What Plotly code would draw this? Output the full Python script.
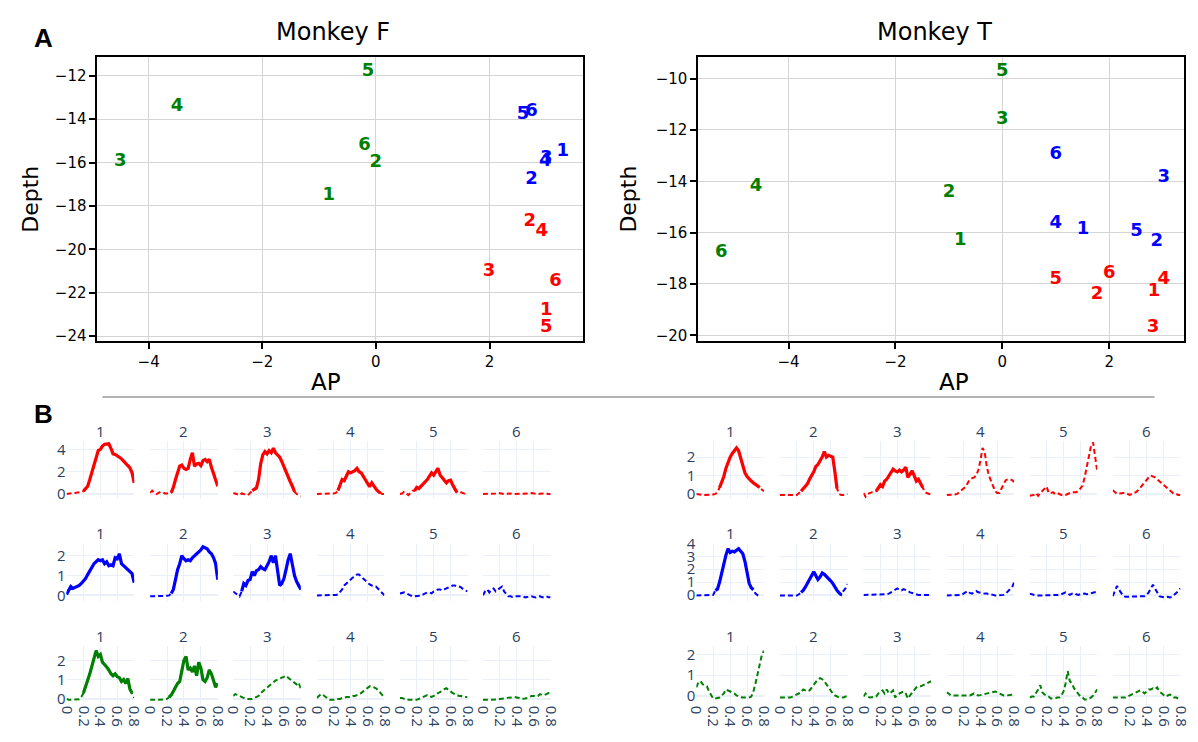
import plotly.graph_objects as go

W, H = 1198, 742

# ---------------- Panel A data (AP, Depth) for labels 1..6 ----------------
LABELS = ["1", "2", "3", "4", "5", "6"]
F_green_ap = [-0.83, 0.0, -4.5, -3.5, -0.14, -0.2]
F_green_depth = [-17.5, -16.0, -15.95, -13.4, -11.8, -15.2]
F_blue_ap = [3.29, 2.74, 3.0, 2.98, 2.59, 2.74]
F_blue_depth = [-15.5, -16.77, -15.82, -15.97, -13.8, -13.66]
F_red_ap = [3.0, 2.71, 1.99, 2.92, 3.0, 3.16]
F_red_depth = [-22.8, -18.7, -21.0, -19.2, -23.6, -21.5]

T_green_ap = [-0.79, -1.0, 0.0, -4.61, 0.0, -5.26]
T_green_depth = [-16.3, -14.43, -11.59, -14.2, -9.72, -16.78]
T_blue_ap = [1.51, 2.89, 3.02, 1.0, 2.51, 1.0]
T_blue_depth = [-15.87, -16.34, -13.85, -15.66, -15.95, -12.97]
T_red_ap = [2.84, 1.77, 2.82, 3.02, 1.0, 2.0]
T_red_depth = [-18.3, -18.41, -19.68, -17.82, -17.82, -17.61]

# ---------------- Panel B data ----------------
TIME = [i * 0.025 for i in range(33)]
N = None

FR1 = [0.0,0.02,0.05,0.07,0.08,0.1,0.12,0.18,0.26,0.45,0.7,1.3,1.9,2.6,3.3,3.9,4.0,4.3,4.45,4.45,4.5,4.1,3.6,3.55,3.45,3.3,3.15,2.95,2.8,2.65,2.35,1.9,1.0]
FR2 = [0.1,0.3,0.1,0.0,0.1,0.2,0.15,0.05,0.05,0.08,0.12,0.6,1.3,2.0,2.5,2.6,2.3,2.2,2.3,3.1,3.7,2.5,2.7,2.75,2.55,3.0,3.1,2.9,3.1,2.4,1.9,1.4,0.7]
FR3 = [0.1,0.05,-0.05,-0.1,0.05,0.0,-0.1,-0.1,0.1,0.3,0.45,0.55,1.3,2.7,3.5,3.8,3.6,3.9,3.7,4.1,3.7,3.5,3.3,2.9,2.4,1.9,1.5,1.1,0.7,0.2,0.0,-0.1,-0.2]
FR4 = [0.0,0.0,0.02,0.0,0.0,0.02,0.03,0.05,0.05,0.1,0.3,0.8,1.3,1.2,1.7,2.0,1.9,2.0,2.1,2.3,2.0,1.9,1.6,1.2,0.9,0.65,1.0,0.7,0.45,0.25,0.1,0.0,0.0]
FR5 = [0.0,0.05,0.2,0.1,-0.1,0.1,0.3,0.3,0.6,0.5,0.7,0.8,1.1,1.3,1.6,1.9,1.7,2.0,2.3,1.7,1.5,1.3,1.0,1.2,1.25,0.8,0.4,0.15,0.1,0.15,0.05,0.0,0.0]
FR6 = [0.0,0.0,0.0,0.02,0.0,0.0,0.05,0.1,0.05,0.0,0.0,0.02,0.05,0.05,0.0,0.0,0.02,0.03,0.05,0.02,0.0,0.0,0.05,0.08,0.05,0.0,0.0,0.02,0.05,0.08,0.05,0.0,0.0]

FB1 = [0.05,0.3,0.45,0.35,0.4,0.45,0.5,0.6,0.7,0.85,1.05,1.25,1.4,1.6,1.7,1.8,1.75,1.8,1.6,1.7,1.5,1.55,1.5,1.9,1.85,2.1,1.6,1.5,1.45,1.35,1.25,1.1,0.65]
FB2 = [-0.05,-0.05,-0.05,-0.05,-0.05,-0.05,-0.05,-0.05,-0.02,0.0,0.1,0.3,0.8,1.3,1.6,2.0,1.85,1.75,1.8,1.75,1.9,2.0,2.05,2.15,2.3,2.45,2.4,2.35,2.2,2.1,1.9,1.6,0.8]
FB3 = [0.2,0.1,0.0,-0.05,0.2,0.6,0.5,0.75,0.8,1.2,1.0,1.25,1.3,1.45,1.35,1.3,1.5,1.7,2.0,1.65,2.0,1.2,0.5,0.6,0.85,1.3,1.8,2.1,1.6,1.0,0.7,0.45,0.3]
FB4 = [0.0,0.0,0.0,0.0,0.0,0.0,0.0,0.0,0.0,0.02,0.05,0.15,0.3,0.5,0.6,0.75,0.85,0.9,0.95,1.05,1.05,0.95,0.8,0.7,0.6,0.55,0.5,0.45,0.45,0.35,0.2,0.1,0.0]
FB5 = [0.1,0.12,0.15,0.1,0.05,0.0,-0.05,-0.05,-0.05,-0.02,0.05,0.05,0.1,0.15,0.15,0.1,0.2,0.25,0.3,0.3,0.25,0.3,0.35,0.4,0.45,0.5,0.5,0.45,0.45,0.4,0.3,0.25,0.2]
FB6 = [0.0,0.2,0.3,0.15,0.3,0.35,0.2,0.3,0.4,0.45,0.2,0.05,-0.05,-0.05,-0.08,-0.05,-0.05,-0.08,-0.05,-0.05,-0.1,-0.08,-0.05,-0.05,-0.08,-0.1,-0.05,-0.05,-0.1,-0.1,-0.05,-0.1,-0.1]

FG1 = [0.0,-0.05,-0.05,-0.05,-0.05,-0.03,-0.02,0.1,0.3,0.6,0.9,1.3,1.7,2.1,2.5,2.2,2.3,1.9,1.8,1.65,1.5,1.3,1.2,1.3,1.15,1.1,0.9,1.0,0.8,1.05,0.5,0.3,0.05]
FG2 = [-0.05,-0.05,-0.05,-0.05,-0.05,-0.05,-0.05,-0.03,0.0,0.1,0.2,0.4,0.6,0.8,0.9,1.4,2.0,2.2,1.5,1.6,1.4,1.7,1.2,1.9,1.6,1.0,0.9,1.1,1.5,1.3,0.9,0.6,0.8]
FG3 = [0.15,0.25,0.2,0.15,0.1,0.05,0.0,0.0,0.0,0.0,0.05,0.1,0.15,0.3,0.4,0.5,0.6,0.7,0.8,0.9,0.95,1.0,1.05,1.1,1.15,1.2,1.1,1.0,0.9,0.8,0.75,0.85,0.5]
FG4 = [0.05,0.15,0.25,0.2,0.1,0.05,-0.05,-0.05,-0.05,0.0,0.0,0.0,0.05,0.05,0.1,0.1,0.1,0.15,0.15,0.2,0.25,0.3,0.4,0.5,0.6,0.65,0.65,0.6,0.55,0.45,0.3,0.2,0.1]
FG5 = [0.05,0.05,0.0,-0.05,-0.05,-0.05,-0.05,-0.05,-0.05,0.0,0.05,0.1,0.15,0.2,0.15,0.1,0.15,0.25,0.3,0.35,0.45,0.5,0.55,0.45,0.35,0.3,0.25,0.2,0.15,0.15,0.1,0.1,0.1]
FG6 = [-0.05,-0.05,-0.05,-0.05,-0.05,-0.05,-0.05,-0.03,0.0,0.0,0.02,0.05,0.05,0.05,0.08,0.1,0.08,0.05,0.0,0.0,0.02,0.05,0.1,0.15,0.15,0.12,0.15,0.25,0.2,0.2,0.25,0.3,0.3]

TR1 = [0.0,-0.03,-0.05,-0.05,-0.05,-0.05,-0.05,-0.05,-0.03,0.0,0.1,0.35,0.6,0.95,1.4,1.75,2.0,2.2,2.35,2.5,2.35,1.9,1.5,1.15,0.95,0.8,0.7,0.6,0.5,0.42,0.35,0.25,0.15]
TR2 = [-0.05,-0.05,-0.05,-0.05,-0.05,-0.05,-0.05,-0.05,-0.05,0.05,0.15,0.3,0.4,0.55,0.8,1.0,1.2,1.5,1.6,1.8,2.0,2.3,2.0,2.1,2.05,2.0,1.2,0.3,0.0,-0.05,-0.05,0.0,0.0]
TR3 = [0.05,-0.15,0.0,0.05,0.1,0.1,0.15,0.3,0.5,0.4,0.7,0.8,1.0,1.2,1.35,1.25,1.2,1.3,1.2,1.3,1.45,0.9,1.1,1.25,1.0,0.7,0.8,0.6,0.35,0.1,0.05,0.0,0.0]
TR4 = [-0.05,-0.05,-0.05,-0.05,-0.03,0.0,0.1,0.15,0.25,0.4,0.6,0.8,0.85,0.9,1.0,1.3,1.8,2.5,2.3,1.5,1.0,0.7,0.4,0.15,0.05,0.05,0.3,0.55,0.75,0.8,0.8,0.75,0.65]
TR5 = [-0.1,-0.08,-0.05,0.05,-0.1,0.05,0.15,0.25,0.4,0.05,0.05,0.1,0.0,0.05,0.0,-0.05,-0.05,-0.05,0.0,0.05,0.1,0.1,0.1,0.15,0.3,0.45,0.9,1.5,2.0,2.6,2.8,2.0,1.2]
TR6 = [0.2,0.1,0.0,0.02,0.05,0.05,0.05,0.0,-0.05,0.0,0.05,0.1,0.2,0.35,0.45,0.6,0.8,0.9,1.0,0.95,0.9,0.8,0.7,0.55,0.45,0.35,0.25,0.15,0.05,0.0,0.0,-0.05,-0.05]

TB1 = [-0.05,-0.05,-0.05,-0.05,-0.05,-0.05,-0.05,-0.05,0.0,0.35,0.45,1.0,1.6,2.4,3.1,3.6,3.3,3.4,3.35,3.45,3.6,3.4,3.2,2.6,1.6,0.9,0.55,0.4,0.1,-0.05,-0.15,N,N]
TB2 = [-0.05,-0.05,-0.05,-0.05,-0.05,-0.05,-0.08,-0.08,-0.05,0.05,0.2,0.35,0.6,0.9,1.2,1.6,1.8,1.5,1.2,1.4,1.7,1.6,1.45,1.3,1.1,0.9,0.6,0.35,0.15,0.0,0.3,0.5,0.85]
TB3 = [0.0,0.0,0.0,0.02,0.05,0.05,0.0,0.0,0.0,0.0,0.02,0.05,0.1,0.2,0.3,0.45,0.5,0.4,0.35,0.45,0.4,0.3,0.2,0.15,0.05,0.0,0.0,0.0,0.0,0.0,0.0,0.0,0.0]
TB4 = [-0.05,-0.05,-0.05,-0.05,-0.05,-0.05,-0.05,0.0,0.1,0.2,0.3,0.15,0.1,0.2,0.3,0.2,0.15,0.12,0.1,0.1,0.08,0.05,0.0,-0.05,-0.05,-0.05,-0.05,0.0,0.1,0.3,0.45,0.6,1.0]
TB5 = [0.1,0.05,-0.05,-0.05,-0.05,-0.05,-0.05,-0.05,-0.05,-0.05,-0.05,-0.05,-0.05,-0.02,0.0,0.05,0.15,0.2,0.1,0.0,0.1,0.15,0.05,0.0,0.05,0.1,0.1,0.05,0.1,0.15,0.15,0.2,0.25]
TB6 = [-0.1,0.3,0.7,0.4,0.1,-0.1,-0.15,-0.15,-0.15,-0.12,-0.15,-0.15,-0.12,-0.15,-0.15,-0.1,0.0,0.2,0.5,0.8,0.5,0.2,-0.1,-0.15,-0.2,-0.2,-0.15,-0.2,-0.15,0.0,0.1,0.3,0.5]

TG1 = [0.4,0.65,0.7,0.55,0.5,0.45,0.2,0.05,-0.15,-0.15,-0.12,-0.1,0.0,0.1,0.3,0.25,0.2,0.15,0.1,0.0,-0.05,-0.08,-0.1,-0.1,-0.1,-0.1,-0.05,0.2,0.6,1.1,1.6,2.0,2.2]
TG2 = [-0.1,-0.1,-0.1,-0.1,-0.1,-0.1,-0.05,0.0,0.05,0.1,0.15,0.3,0.25,0.2,0.25,0.4,0.55,0.7,0.8,0.85,0.8,0.7,0.55,0.4,0.2,0.1,0.0,-0.05,-0.1,-0.1,-0.1,-0.05,-0.05]
TG3 = [-0.05,0.1,-0.05,-0.1,-0.08,-0.05,-0.05,0.1,0.15,0.25,0.1,0.3,0.1,0.15,0.25,-0.1,0.05,0.1,0.15,0.2,0.1,-0.15,0.0,0.15,0.3,0.4,0.45,0.45,0.5,0.55,0.6,0.65,0.7]
TG4 = [0.15,0.1,0.0,0.0,-0.02,0.0,0.0,0.0,0.0,0.0,0.0,0.0,0.05,0.1,0.05,0.0,0.02,0.05,0.08,0.1,0.12,0.15,0.2,0.2,0.15,0.1,0.05,0.0,0.0,0.0,0.02,0.05,0.05]
TG5 = [-0.1,-0.05,-0.05,0.1,0.3,0.5,0.15,0.05,0.0,-0.05,-0.15,-0.15,-0.15,-0.1,-0.1,0.0,0.2,0.6,1.2,0.7,0.6,0.35,0.2,0.05,-0.05,-0.1,-0.2,-0.2,-0.15,-0.1,0.0,0.15,0.3]
TG6 = [-0.1,-0.1,-0.1,-0.1,-0.1,-0.1,-0.1,-0.05,0.0,0.05,0.1,0.15,0.2,0.25,0.2,0.1,0.2,0.3,0.3,0.35,0.3,0.4,0.2,0.1,0.0,-0.05,0.0,0.05,0.0,-0.1,-0.1,-0.15,-0.15]

# significant windows (start, end) in seconds; None = not significant
F_SIG = [
    [(0.2, 0.8), (0.25, 0.8), (0.225, 0.725), (0.25, 0.75), (0.175, 0.675), None],
    [(0.0, 0.8), (0.25, 0.8), (0.1, 0.8), None, None, None],
    [(0.2, 0.775), (0.225, 0.8), None, None, None, None],
]
T_SIG = [
    [(0.275, 0.75), (0.25, 0.675), (0.15, 0.7), None, None, None],
    [(0.225, 0.675), (0.25, 0.725), None, None, None, None],
    [None, None, None, None, None, None],
]
F_CURVES = [[FR1, FR2, FR3, FR4, FR5, FR6], [FB1, FB2, FB3, FB4, FB5, FB6], [FG1, FG2, FG3, FG4, FG5, FG6]]
T_CURVES = [[TR1, TR2, TR3, TR4, TR5, TR6], [TB1, TB2, TB3, TB4, TB5, TB6], [TG1, TG2, TG3, TG4, TG5, TG6]]
ROW_COLORS = ["#ff0000", "#0000ff", "#008000"]
F_YRANGE = [[-0.44, 4.74], [-0.3, 2.62], [-0.3, 2.72]]
T_YRANGE = [[-0.27, 2.87], [-0.5, 4.0], [-0.45, 2.41]]
F_DTICK = [2, 1, 1]
T_DTICK = [1, 1, 1]

# ---------------- geometry helpers (pixel -> paper) ----------------
def xd(a, b):
    return [a / W, b / W]

def yd(top, bottom):
    return [1 - bottom / H, 1 - top / H]

fig = go.Figure()
layout = {}

# ---------------- Panel A ----------------
top_axis_common = dict(
    showgrid=True, gridcolor="#d4d4d4", gridwidth=1.3, zeroline=False,
    showline=True, linecolor="black", linewidth=2, mirror=True,
    ticks="outside", ticklen=6, tickwidth=1.5, tickcolor="black",
    tickfont=dict(family="DejaVu Sans", size=15, color="black"),
)
layout["xaxis"] = dict(top_axis_common, domain=xd(90, 584), anchor="y", range=[-4.9, 3.65], tickvals=[-4, -2, 0, 2])
layout["yaxis"] = dict(top_axis_common, domain=yd(47, 337), anchor="x", range=[-24.23, -11.14], tickvals=[-24, -22, -20, -18, -16, -14, -12])
layout["xaxis2"] = dict(top_axis_common, domain=xd(701, 1195), anchor="y2", range=[-5.69, 3.4], tickvals=[-4, -2, 0, 2])
layout["yaxis2"] = dict(top_axis_common, domain=yd(47, 337), anchor="x2", range=[-20.23, -9.16], tickvals=[-20, -18, -16, -14, -12, -10])

def add_labels(ap, depth, color, xa, ya):
    fig.add_trace(go.Scatter(
        x=ap, y=depth, text=LABELS, mode="text", xaxis=xa, yaxis=ya,
        textposition="middle center",
        textfont=dict(family="DejaVu Sans", size=18, color=color, weight="bold"),
        hoverinfo="skip", showlegend=False))

add_labels(F_green_ap, F_green_depth, "#008000", "x", "y")
add_labels(F_blue_ap, F_blue_depth, "#0000ff", "x", "y")
add_labels(F_red_ap, F_red_depth, "#ff0000", "x", "y")
add_labels(T_green_ap, T_green_depth, "#008000", "x2", "y2")
add_labels(T_blue_ap, T_blue_depth, "#0000ff", "x2", "y2")
add_labels(T_red_ap, T_red_depth, "#ff0000", "x2", "y2")

annotations = []
def ann(text, x, y, size, family="DejaVu Sans", color="black", angle=0, bold=False):
    annotations.append(dict(
        text=("<b>%s</b>" % text) if bold else text, x=x / W, y=1 - y / H,
        xref="paper", yref="paper", showarrow=False, xanchor="center", yanchor="middle",
        textangle=angle, font=dict(family=family, size=size, color=color)))

ann("Monkey F", 330, 21, 24)
ann("Monkey T", 941, 21, 24)
ann("AP", 322, 379, 23)
ann("AP", 961, 379, 23)
ann("Depth", 21, 192, 22, angle=-90)
ann("Depth", 630, 192, 22, angle=-90)
ann("A", 35, 28, 26, family="Liberation Sans", bold=True)
ann("B", 35, 411, 26, family="Liberation Sans", bold=True)

# ---------------- Panel B ----------------
F_COLS = [58.5, 143.5, 228, 313, 397.5, 482]
T_COLS = [699, 784, 869, 953.5, 1038, 1122.5]
COL_W = 68.8
ROWS = [(439, 498), (543.5, 602.5), (648.5, 708)]
TITLE_Y = [429, 533, 638]
SLATE = "#2a3f5f"

idx = 3
for cols, curves, sigs, yranges, dticks in [
        (F_COLS, F_CURVES, F_SIG, F_YRANGE, F_DTICK),
        (T_COLS, T_CURVES, T_SIG, T_YRANGE, T_DTICK)]:
    for r in range(3):
        for c in range(6):
            xa, ya = "x%d" % idx, "y%d" % idx
            layout["xaxis%d" % idx] = dict(
                domain=xd(cols[c], cols[c] + COL_W), anchor=ya, range=[0, 0.8],
                tickvals=[0, 0.2, 0.4, 0.6, 0.8], ticktext=["0", "0.2", "0.4", "0.6", "0.8"],
                showticklabels=(r == 2), tickangle=90, ticks="",
                gridcolor="#EBF0F8", gridwidth=1, zeroline=False, showline=False,
                tickfont=dict(family="Open Sans", size=15, color=SLATE))
            layout["yaxis%d" % idx] = dict(
                domain=yd(ROWS[r][0], ROWS[r][1]), anchor=xa, range=yranges[r],
                dtick=dticks[r], tick0=0, showticklabels=(c == 0), ticks="",
                gridcolor="#EBF0F8", gridwidth=1, zeroline=True, zerolinecolor="#EBF0F8",
                zerolinewidth=2, showline=False,
                tickfont=dict(family="Open Sans", size=15, color=SLATE))
            vals = curves[r][c]
            color = ROW_COLORS[r]
            fig.add_trace(go.Scatter(
                x=TIME, y=vals, mode="lines", xaxis=xa, yaxis=ya,
                line=dict(color=color, width=2, dash="5px,3px"),
                hoverinfo="skip", showlegend=False, connectgaps=False))
            sig = sigs[r][c]
            if sig is not None:
                sy = [v if (v is not None and sig[0] - 1e-9 <= t <= sig[1] + 1e-9) else None
                      for t, v in zip(TIME, vals)]
                fig.add_trace(go.Scatter(
                    x=TIME, y=sy, mode="lines", xaxis=xa, yaxis=ya,
                    line=dict(color=color, width=3.2),
                    hoverinfo="skip", showlegend=False, connectgaps=False))
            ann(str(c + 1), cols[c] + COL_W / 2, TITLE_Y[r], 15, family="Open Sans", color=SLATE)
            idx += 1

shapes = [dict(type="line", xref="paper", yref="paper",
               x0=95 / W, x1=1165 / W, y0=1 - 394 / H, y1=1 - 394 / H,
               line=dict(color="#9a9a9a", width=1.5))]

fig.update_layout(
    template="plotly_white",
    width=W, height=H, margin=dict(l=0, r=0, t=0, b=0),
    paper_bgcolor="white", plot_bgcolor="white",
    font=dict(family="Open Sans", color=SLATE),
    showlegend=False, annotations=annotations, shapes=shapes,
    **layout)

fig.write_html("out.html")
